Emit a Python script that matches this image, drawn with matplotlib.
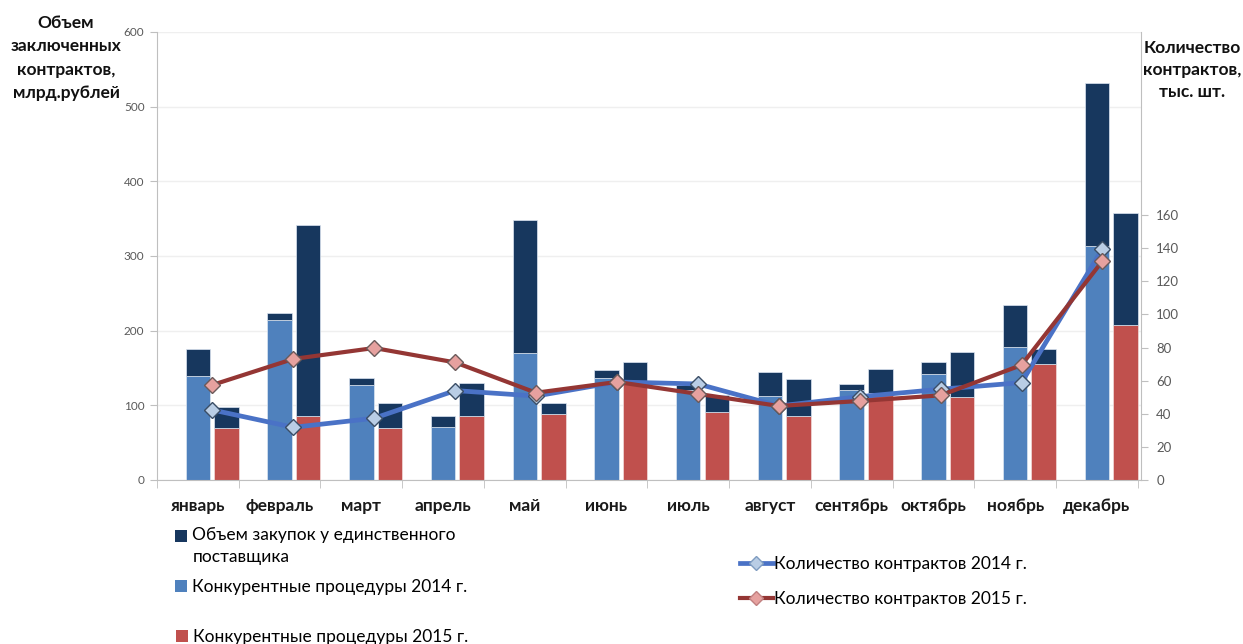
import matplotlib
matplotlib.use('Agg')
import matplotlib.pyplot as plt
from matplotlib.patches import Patch, Rectangle
from matplotlib.lines import Line2D
from matplotlib.legend_handler import HandlerPatch
import numpy as np

plt.rcParams['font.family'] = ['Lato', 'DejaVu Sans']

months = ['январь', 'февраль', 'март', 'апрель', 'май', 'июнь',
          'июль', 'август', 'сентябрь', 'октябрь', 'ноябрь', 'декабрь']

# млрд. рублей
comp_2014 = [139, 214, 127, 71, 170, 137, 120, 112, 120, 142, 178, 314]
sole_2014 = [37, 10, 10, 15, 178, 10, 7, 32, 9, 16, 57, 218]
comp_2015 = [70, 86, 69, 86, 89, 132, 91, 86, 117, 111, 156, 207]
sole_2015 = [28, 255, 34, 44, 14, 26, 23, 49, 31, 60, 19, 151]

# тыс. шт.
count_2014 = [42.3, 31.8, 37.3, 54, 50.7, 59.2, 58, 44.7, 50.3, 54.8, 58.8, 139.5]
count_2015 = [57.4, 73.1, 79.7, 71, 52.7, 59.2, 52, 44.7, 47.7, 51.1, 69.4, 132.2]

c_navy = '#17375E'
c_blue = '#4F81BD'
c_red = '#C0504D'
c_line14 = '#4A72C6'
c_line15 = '#943634'
c_grid = '#EFEFEF'
c_axis = '#BFBFBF'
c_tick = '#595959'

W, H = 1243, 644
fig = plt.figure(figsize=(W / 100, H / 100), dpi=100)
ax = fig.add_axes([157 / W, 1 - 480 / H, (1141 - 157) / W, (480 - 32) / H])

x = np.arange(len(months))
bw = 0.3
off = 0.35

ax.bar(x, comp_2014, bw, color=c_blue, edgecolor='#DCE6F2', linewidth=0.5, zorder=2)
ax.bar(x, sole_2014, bw, bottom=comp_2014, color=c_navy, edgecolor='#DCE6F2',
       linewidth=0.5, zorder=2)
ax.bar(x + off, comp_2015, bw, color=c_red, edgecolor='#F2DCDB', linewidth=0.5, zorder=2)
ax.bar(x + off, sole_2015, bw, bottom=comp_2015, color=c_navy, edgecolor='#DCE6F2',
       linewidth=0.5, zorder=2)

ax.set_xlim(-0.5, len(months) - 0.5 + 0.04)
ax.set_ylim(0, 600)
ax.set_yticks(range(0, 601, 100))
ax.yaxis.grid(True, color=c_grid, linewidth=1)
ax.set_axisbelow(True)
ax.set_xticks(x)
ax.set_xticklabels(months, fontsize=12.5, fontweight='bold', color='#1a1a1a')
ax.set_xticks(np.arange(-0.5, len(months), 1), minor=True)
ax.tick_params(axis='x', which='major', length=0, pad=13)
ax.tick_params(axis='x', which='minor', length=6, color=c_axis, direction='out')
ax.tick_params(axis='y', length=5, color=c_axis, labelsize=8.5, labelcolor=c_tick, pad=4)
for s in ['top', 'right']:
    ax.spines[s].set_visible(False)
ax.spines['left'].set_color(c_axis)
ax.spines['bottom'].set_color(c_axis)

ax2 = ax.twinx()
ax2.set_ylim(0, 270.5)
ax2.set_yticks(range(0, 161, 20))
ax2.tick_params(axis='y', length=5, color=c_axis, labelsize=9.5, labelcolor=c_tick, pad=6)
for s in ['top', 'left', 'bottom']:
    ax2.spines[s].set_visible(False)
ax2.spines['right'].set_color(c_axis)

lx = 0.178 + x * 0.99
ax2.plot(lx, count_2014, color=c_line14, linewidth=3.4, marker='D', markersize=8,
         markerfacecolor='#B9CDE5', markeredgecolor='#3B4E66', markeredgewidth=1, zorder=4)
ax2.plot(lx, count_2015, color=c_line15, linewidth=3.0, marker='D', markersize=8,
         markerfacecolor='#E6A19F', markeredgecolor='#6B5A5A', markeredgewidth=1, zorder=5)

fig.text(66 / W, 1 - 58 / H, 'Объем\nзаключенных\nконтрактов,\nмлрд.рублей',
         ha='center', va='center', fontsize=12.5, fontweight='bold',
         linespacing=1.55, color='#111111')
fig.text(1192 / W, 1 - 70 / H, 'Количество\nконтрактов,\nтыс. шт.',
         ha='center', va='center', fontsize=12.5, fontweight='bold',
         linespacing=1.45, color='#111111')


def top_patch(legend, orig_handle, xdescent, ydescent, width, height, fontsize):
    # square next to the first line of a two-line label
    return Rectangle((-xdescent, -ydescent + 0.62 * fontsize), width, height)


leg_font = 12.5
navy_h = Patch(facecolor=c_navy)
h1 = [navy_h, Patch(facecolor=c_blue)]
l1 = ['Объем закупок у единственного\nпоставщика', 'Конкурентные процедуры 2014 г.']
leg1 = fig.legend(h1, l1, loc='upper left', bbox_to_anchor=(175 / W, 1 - 527 / H),
                  frameon=False, fontsize=leg_font, handlelength=0.7, handleheight=0.7,
                  handletextpad=0.3, labelspacing=0.8, borderaxespad=0, borderpad=0,
                  handler_map={navy_h: HandlerPatch(patch_func=top_patch)})
leg1.get_texts()[0].set_linespacing(1.45)
leg2 = fig.legend([Patch(facecolor=c_red)], ['Конкурентные процедуры 2015 г.'],
                  loc='upper left', bbox_to_anchor=(176 / W, 1 - 629 / H),
                  frameon=False, fontsize=leg_font, handlelength=0.7, handleheight=0.7,
                  handletextpad=0.3, borderaxespad=0, borderpad=0)
h3 = [Line2D([], [], color=c_line14, linewidth=3.4, marker='D', markersize=7,
             markerfacecolor='#B9CDE5', markeredgecolor='#7F9CC0'),
      Line2D([], [], color=c_line15, linewidth=3.0, marker='D', markersize=7,
             markerfacecolor='#E6A19F', markeredgecolor='#C08080')]
l3 = ['Количество контрактов 2014 г.', 'Количество контрактов 2015 г.']
leg3 = fig.legend(h3, l3, loc='upper left', bbox_to_anchor=(740 / W, 1 - 556 / H),
                  frameon=False, fontsize=leg_font, handlelength=1.9,
                  handletextpad=0.05, labelspacing=1.1, borderaxespad=0, borderpad=0)

fig.savefig('out.png', dpi=100, facecolor='white')
